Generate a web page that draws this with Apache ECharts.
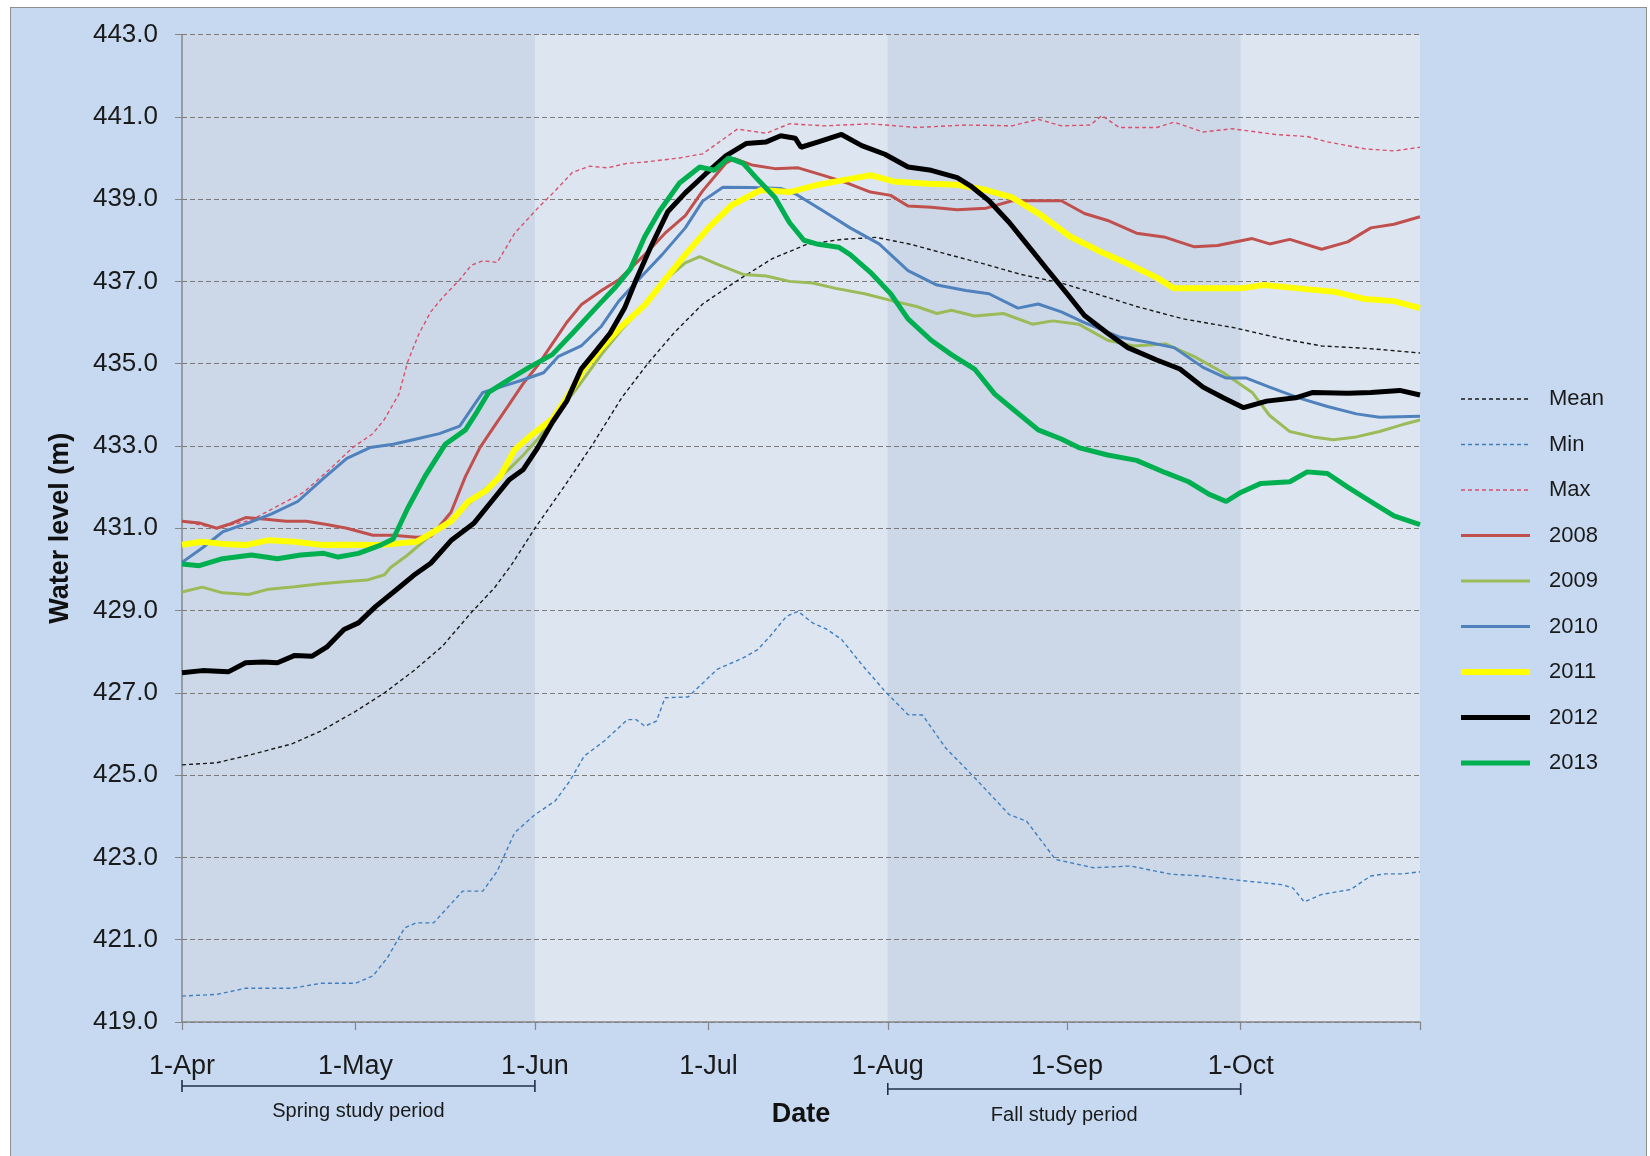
<!DOCTYPE html>
<html>
<head>
<meta charset="utf-8">
<title>Water level</title>
<script src="https://cdn.jsdelivr.net/npm/echarts@6/dist/echarts.min.js"></script>
<style>
  html, body { margin: 0; padding: 0; background: #ffffff; overflow: hidden; width: 1650px; height: 1156px; }
  #frame { position: absolute; left: 10px; top: 7px; width: 1637px; height: 1170px; background: #c6d9f0;
           border: 1.5px solid #8e8e8e; box-sizing: border-box; }
  #chart { position: absolute; left: 0; top: 0; width: 1650px; height: 1156px; }
</style>
</head>
<body>
<div id="frame"></div>
<div id="chart"></div>
<script>
// x values are days counted from 1 April
const monthDays   = [0, 30, 61, 91, 122, 153, 183];
const monthLabels = ['1-Apr', '1-May', '1-Jun', '1-Jul', '1-Aug', '1-Sep', '1-Oct'];
const axisEndDay  = 214;
const yTicks      = [419, 421, 423, 425, 427, 429, 431, 433, 435, 437, 439, 441, 443];

const legendNames = ['Mean', 'Min', 'Max', '2008', '2009', '2010', '2011', '2012', '2013'];

const studyPeriods = [
  { name: 'Spring study period', from: 0,   to: 61 },
  { name: 'Fall study period',   from: 122, to: 183 }
];

const mean = [[0,425.25],[6,425.3],[12,425.5],[19,425.76],[24,426.07],[30,426.55],[35,427.0],[40,427.53],[45,428.13],[50,428.95],[54,429.55],[57,430.12],[61,431.0],[66,432.0],[71,433.04],[76,434.17],[80.5,435.0],[85,435.74],[90,436.45],[96,437.02],[102,437.55],[108,437.9],[114,438.02],[120,438.07],[126,437.9],[132,437.67],[139,437.41],[145,437.17],[152,436.96],[158,436.7],[165,436.39],[173,436.09],[182,435.87],[190,435.61],[197,435.43],[205,435.37],[214,435.26]];

const minLevel = [[0,419.63],[6,419.67],[11,419.82],[19,419.82],[24,419.94],[30,419.94],[33,420.12],[35.5,420.56],[38.5,421.29],[40.5,421.41],[43.5,421.41],[48.5,422.18],[52,422.18],[54.5,422.67],[57.5,423.6],[61,424.04],[64.5,424.37],[67,424.85],[69.5,425.46],[73,425.83],[77,426.35],[78.5,426.35],[80,426.19],[82,426.31],[83.5,426.88],[87.5,426.9],[92.5,427.57],[97,427.85],[99.5,428.05],[101.5,428.35],[104.5,428.86],[106.5,428.98],[109,428.7],[111.5,428.54],[114,428.3],[117.5,427.69],[121.5,427.04],[125.5,426.47],[128,426.46],[132,425.66],[137,424.94],[143,424.04],[146,423.88],[151,422.95],[157.5,422.75],[164,422.79],[171,422.59],[176.5,422.55],[183,422.44],[190,422.34],[192,422.26],[194,421.92],[197,422.1],[202,422.22],[205.5,422.55],[208,422.6],[211,422.6],[214,422.65]];

const maxLevel = [[0,431.17],[6,431.0],[12,431.2],[16,431.5],[21,431.87],[25.5,432.43],[29.5,432.96],[33,433.3],[35,433.65],[37.5,434.26],[39,435.04],[41,435.74],[43,436.26],[45,436.6],[48,437.04],[50,437.39],[52,437.5],[54.5,437.46],[57.5,438.17],[61.5,438.78],[64.5,439.2],[67.5,439.65],[70.5,439.8],[73.5,439.76],[77,439.87],[80,439.9],[86,440.0],[90,440.1],[96,440.7],[101,440.6],[105,440.83],[111,440.78],[119,440.83],[127,440.74],[135.5,440.8],[143.5,440.78],[148,440.94],[152,440.78],[157,440.8],[159,441.03],[162,440.74],[168.5,440.74],[171.5,440.87],[176.5,440.63],[181.5,440.71],[189,440.57],[194.5,440.52],[198,440.39],[204.5,440.22],[209.5,440.17],[214,440.26]];

const y2008 = [[0,431.17],[3,431.13],[6,431.0],[8,431.09],[11,431.26],[14.5,431.22],[18,431.17],[21.5,431.17],[25,431.09],[28.5,431.0],[33,430.83],[36.5,430.83],[40.5,430.78],[43,430.8],[46.5,431.39],[49,432.26],[51.5,432.96],[54,433.48],[56.5,434.0],[59,434.52],[61.5,434.96],[64,435.48],[66.5,436.0],[69,436.43],[72.5,436.78],[75.5,437.04],[80,437.65],[83.5,438.17],[87,438.6],[90,439.2],[94,439.87],[95.5,439.98],[98.5,439.83],[102.5,439.74],[106.5,439.76],[111,439.57],[115,439.39],[119,439.17],[122.5,439.09],[125.5,438.83],[129.5,438.8],[134,438.74],[139,438.78],[143.5,438.96],[152,438.96],[156,438.65],[160,438.48],[165,438.17],[170,438.07],[175,437.84],[179,437.87],[185,438.04],[188,437.91],[191.5,438.02],[197,437.78],[201.5,437.96],[205.5,438.3],[209.5,438.39],[214,438.57]];

const y2009 = [[0,429.45],[3.5,429.57],[7,429.43],[11.5,429.39],[15,429.52],[19.5,429.58],[24,429.65],[28,429.7],[32,429.74],[35,429.87],[36,430.04],[39,430.35],[41.5,430.65],[44,430.96],[48,431.39],[52,431.91],[56.5,432.43],[59,432.78],[61.5,433.17],[65,433.83],[68,434.35],[72.5,435.22],[76,435.83],[80,436.43],[83.5,437.04],[87,437.45],[89.5,437.6],[92.5,437.42],[97,437.17],[101,437.13],[105,437.0],[109,436.96],[113,436.83],[118,436.7],[123,436.52],[127,436.39],[130.5,436.22],[133,436.3],[137,436.16],[142,436.22],[147,435.96],[150.5,436.04],[155,435.96],[160,435.57],[164.5,435.43],[170,435.48],[175,435.17],[180,434.78],[185,434.3],[188,433.74],[191.5,433.35],[195.5,433.22],[199,433.15],[203,433.22],[207,433.35],[211,433.52],[214,433.63]];

const y2010 = [[0,430.17],[3.5,430.52],[7,430.91],[11.5,431.13],[15.5,431.35],[20,431.65],[24.5,432.22],[28.5,432.7],[32.5,432.96],[36.5,433.04],[40.5,433.17],[44.5,433.3],[48,433.48],[50.5,434.0],[52,434.3],[55,434.43],[59,434.61],[62.5,434.78],[65,435.17],[69,435.43],[72.5,435.91],[75.5,436.52],[79.5,437.13],[83,437.65],[87,438.3],[90,438.95],[93.5,439.29],[98.5,439.28],[103.5,439.26],[106,439.13],[111,438.7],[115.5,438.3],[120.5,437.91],[125.5,437.26],[130.5,436.91],[135.5,436.78],[139.5,436.7],[144.5,436.35],[148,436.45],[152,436.26],[156,436.0],[162,435.65],[167,435.52],[171.5,435.39],[176.5,434.91],[180.5,434.65],[184,434.65],[188,434.43],[193,434.17],[198,433.96],[203,433.78],[207,433.7],[214,433.72]];

const y2011 = [[0,430.6],[3.5,430.67],[7,430.62],[11,430.59],[15,430.71],[19.5,430.67],[24.5,430.59],[28.5,430.6],[33,430.59],[36.5,430.62],[40.5,430.67],[43,430.87],[46.5,431.17],[49.5,431.65],[52.5,431.91],[55,432.26],[57.5,432.91],[60,433.22],[64,433.65],[66.5,434.17],[69.5,434.87],[72.5,435.39],[76,435.91],[80,436.43],[83.5,437.04],[87,437.65],[91,438.3],[95,438.85],[100,439.22],[105,439.17],[110,439.35],[115,439.48],[119,439.58],[123,439.43],[129,439.37],[134,439.35],[139,439.22],[143.5,439.04],[148.5,438.61],[153.5,438.09],[158.5,437.74],[163.5,437.43],[168.5,437.09],[171.5,436.83],[176.5,436.83],[183,436.83],[187,436.91],[193,436.83],[199.5,436.74],[204.5,436.57],[209.5,436.52],[214,436.35]];

const y2012 = [[0,427.49],[3.5,427.54],[8,427.51],[11,427.73],[14,427.75],[16.5,427.73],[19.5,427.91],[22.5,427.89],[25,428.11],[28,428.54],[30.5,428.7],[33.5,429.1],[37,429.5],[40,429.85],[43,430.15],[46.5,430.7],[50.5,431.13],[53.5,431.65],[56.5,432.17],[59,432.43],[61.5,432.96],[64,433.57],[66.5,434.09],[69,434.87],[71.5,435.3],[74,435.74],[76.5,436.35],[78.5,437.04],[81,437.83],[84,438.7],[87,439.15],[90.5,439.61],[94,440.05],[97.5,440.35],[101,440.39],[103.5,440.54],[106,440.48],[107,440.26],[110,440.39],[114,440.57],[117.5,440.3],[121.5,440.09],[125.5,439.78],[129.5,439.7],[134,439.52],[136.5,439.3],[139.5,438.96],[143,438.43],[146,437.91],[149.5,437.3],[153,436.7],[156,436.17],[160,435.74],[163.5,435.39],[168.5,435.09],[172.5,434.87],[176.5,434.43],[180,434.17],[183.5,433.93],[187.5,434.09],[192.5,434.17],[195.5,434.3],[201.5,434.28],[205.5,434.3],[210.5,434.35],[214,434.24]];

const y2013 = [[0,430.13],[3,430.09],[7,430.26],[12,430.35],[16.5,430.26],[20.5,430.35],[24.5,430.39],[27,430.3],[30.5,430.39],[34,430.57],[36.5,430.74],[39,431.48],[42,432.26],[45.5,433.04],[49,433.39],[51,433.83],[53,434.3],[56.5,434.61],[60,434.91],[64,435.22],[67.5,435.74],[71.5,436.35],[75,436.87],[77.5,437.3],[80,438.09],[82.5,438.7],[86,439.39],[89.5,439.78],[92,439.7],[94.5,440.0],[97,439.87],[99.5,439.48],[102.5,439.04],[105,438.43],[107.5,438.0],[110,437.9],[113.5,437.83],[115.5,437.65],[119,437.22],[122.5,436.7],[125.5,436.09],[129.5,435.57],[133,435.22],[137,434.87],[140.5,434.26],[143.5,433.91],[148,433.39],[152,433.17],[155,432.96],[160,432.78],[165,432.65],[170,432.35],[174,432.13],[177.5,431.83],[180.5,431.65],[183,431.87],[186.5,432.09],[191.5,432.13],[194.5,432.37],[198,432.33],[201.5,432.0],[205.5,431.65],[209.5,431.3],[214,431.09]];

const FONT = '"Liberation Sans", Arial, sans-serif';
const BAND_DARK = '#ccd8e7';
const BAND_LIGHT = '#dde5f1';
const AXIS_GREY = '#868686';

// line colour, width and dash for each series, by legend name
const styles = {
  'Mean': { color: '#1a1a1a', width: 1.4, dash: [4, 3] },
  'Min':  { color: '#3f7fc0', width: 1.4, dash: [4, 3] },
  'Max':  { color: '#d9506c', width: 1.4, dash: [4, 3] },
  '2008': { color: '#c0504d', width: 3 },
  '2009': { color: '#9bbb59', width: 3 },
  '2010': { color: '#4f81bd', width: 3 },
  '2011': { color: '#ffff00', width: 6 },
  '2012': { color: '#000000', width: 5 },
  '2013': { color: '#00b050', width: 5 }
};
const seriesData = {
  'Mean': mean, 'Min': minLevel, 'Max': maxLevel,
  '2008': y2008, '2009': y2009, '2010': y2010, '2011': y2011, '2012': y2012, '2013': y2013
};

function lineSeries(name) {
  const s = styles[name];
  return {
    name: name, type: 'line', data: seriesData[name],
    symbol: 'none', showSymbol: false, smooth: false,
    lineStyle: { color: s.color, width: s.width, type: s.dash || 'solid' },
    itemStyle: { color: s.color },
    emphasis: { disabled: true }
  };
}

const chart = echarts.init(document.getElementById('chart'), null, { renderer: 'canvas' });

chart.setOption({
  animation: false,
  backgroundColor: 'transparent',
  textStyle: { fontFamily: FONT },
  grid: { left: 182, right: 230, top: 34.5, bottom: 134, containLabel: false },
  xAxis: [
    {
      type: 'value', min: 0, max: axisEndDay, position: 'bottom', z: 1,
      name: 'Date', nameLocation: 'middle', nameGap: 79,
      nameTextStyle: { fontSize: 27, fontWeight: 'bold', color: '#111', fontFamily: FONT },
      axisLine: { show: true, lineStyle: { color: AXIS_GREY, width: 1.5 } },
      axisTick: { show: true, customValues: monthDays.concat([axisEndDay]), length: 8, lineStyle: { color: AXIS_GREY, width: 1.2 } },
      axisLabel: {
        customValues: monthDays, fontSize: 27, color: '#1a1a1a', margin: 31, fontFamily: FONT,
        formatter: function (v) { const i = monthDays.indexOf(v); return i >= 0 ? monthLabels[i] : ''; }
      },
      splitLine: { show: false }
    },
    {
      // two-month shading bands behind the lines
      type: 'value', min: 0, max: axisEndDay, interval: 61, position: 'top', z: 0,
      axisLine: { show: false }, axisTick: { show: false }, axisLabel: { show: false },
      splitLine: { show: false },
      splitArea: { show: true, areaStyle: { color: [BAND_DARK, BAND_LIGHT] } }
    }
  ],
  yAxis: {
    type: 'value', min: yTicks[0], max: yTicks[yTicks.length - 1], interval: 2, z: 1,
    name: 'Water level (m)', nameLocation: 'middle', nameGap: 108, nameRotate: 90,
    nameTextStyle: { fontSize: 27, fontWeight: 'bold', color: '#111', fontFamily: FONT },
    axisLine: { show: true, lineStyle: { color: AXIS_GREY, width: 1.5 } },
    axisTick: { show: true, length: 7, lineStyle: { color: AXIS_GREY } },
    axisLabel: { fontSize: 26, color: '#1a1a1a', margin: 24, fontFamily: FONT,
                 formatter: function (v) { return v.toFixed(1); } },
    splitLine: { show: true, lineStyle: { color: '#7a7a7a', width: 1, type: [5, 3] } }
  },
  legend: {
    orient: 'vertical', left: 1453, top: 383,
    itemWidth: 69, itemHeight: 14, itemGap: 23.5,
    data: legendNames.map(function (n) {
      const s = styles[n];
      return { name: n, lineStyle: { width: s.width, type: s.dash || 'solid', color: s.color } };
    }),
    itemStyle: { opacity: 0, borderWidth: 0 },
    textStyle: { fontSize: 22, color: '#1a1a1a', fontFamily: FONT, padding: [0, 0, 0, 14] },
    selectedMode: false
  },
  series: legendNames.map(lineSeries)
});

// study-period brackets under the date axis, placed from their day ranges
const bracketY = [1086, 1089];
const textY = [1111, 1115];
const graphics = [];
studyPeriods.forEach(function (p, i) {
  const x0 = chart.convertToPixel({ xAxisIndex: 0 }, p.from);
  const x1 = chart.convertToPixel({ xAxisIndex: 0 }, p.to);
  const y = bracketY[i];
  const stroke = { stroke: '#1f2f4a', lineWidth: 1.6 };
  graphics.push({ type: 'line', shape: { x1: x0, y1: y, x2: x1, y2: y }, style: stroke, silent: true });
  graphics.push({ type: 'line', shape: { x1: x0, y1: y - 6, x2: x0, y2: y + 6 }, style: stroke, silent: true });
  graphics.push({ type: 'line', shape: { x1: x1, y1: y - 6, x2: x1, y2: y + 6 }, style: stroke, silent: true });
  graphics.push({
    type: 'text', x: (x0 + x1) / 2, y: textY[i], silent: true,
    style: { text: p.name, fill: '#1a1a1a', font: '20px ' + FONT, textAlign: 'center', textVerticalAlign: 'middle' }
  });
});
chart.setOption({ graphic: graphics });
</script>
</body>
</html>
